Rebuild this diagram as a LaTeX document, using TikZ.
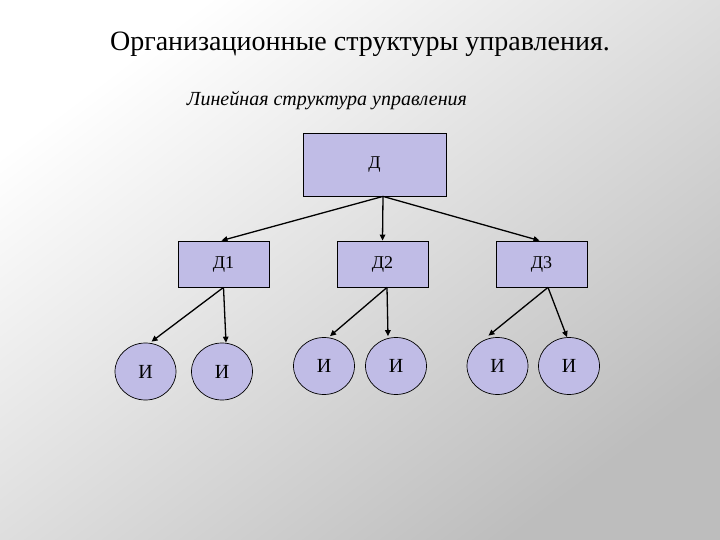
\documentclass[tikz,border=0pt]{standalone}
\usepackage{fontspec}
\setmainfont{Liberation Serif}
\usetikzlibrary{shapes.geometric,arrows.meta}
\definecolor{boxfill}{RGB}{192,188,230}
\tikzset{
  mgr/.style={draw=black, line width=0.8pt, fill=boxfill, inner sep=0pt, font=\fontsize{18}{20}\selectfont},
  exe/.style={ellipse, draw=black, line width=0.7pt, fill=boxfill, minimum width=61pt, minimum height=57pt, inner sep=0pt, font=\fontsize{20}{22}\selectfont},
  conn/.style={line width=1.3pt, -{Triangle[length=6pt,width=5.5pt]}}
}
\begin{document}
\begin{tikzpicture}[x=1pt,y=-1pt]
\useasboundingbox (0,0) rectangle (720,540);
\begin{scope}[y=1pt]
\shade[top color=white, bottom color=black!26, shading angle=37] (0,-540) rectangle (720,0);
\end{scope}
\node[font=\fontsize{28}{32}\selectfont] (title) at (360,44) {Организационные структуры управления.};
\node[font=\itshape\fontsize{20}{22}\selectfont] (sub) at (327,101) {Линейная структура управления};
\node[mgr, minimum width=143pt, minimum height=63pt] (D) at (374.5,164.5) {Д};
\node[mgr, minimum width=91pt, minimum height=46pt] (D1) at (223.5,264) {Д1};
\node[mgr, minimum width=91pt, minimum height=46pt] (D2) at (382.5,264) {Д2};
\node[mgr, minimum width=91pt, minimum height=46pt] (D3) at (541.5,264) {Д3};
\node[exe] (I1) at (145.5,371.5) {И};
\node[exe] (I2) at (222,371.5) {И};
\node[exe] (I3) at (324,366) {И};
\node[exe] (I4) at (396,366) {И};
\node[exe] (I5) at (497.5,366) {И};
\node[exe] (I6) at (569,366) {И};
\draw[conn] ([xshift=8.5pt]D.south) -- ([xshift=-2pt]D1.north);
\draw[conn] ([xshift=8.5pt]D.south) -- (D2.north);
\draw[conn] ([xshift=8.5pt]D.south) -- ([xshift=-2pt]D3.north);
\draw[conn] (D1.south) -- ([xshift=6pt,yshift=1pt]I1.north);
\draw[conn] (D1.south) -- ([xshift=4pt]I2.north);
\draw[conn] ([xshift=4.5pt]D2.south) -- ([xshift=6pt,yshift=1pt]I3.north);
\draw[conn] ([xshift=4.5pt]D2.south) -- ([xshift=-8pt,yshift=1pt]I4.north);
\draw[conn] ([xshift=6.5pt]D3.south) -- ([xshift=-9pt,yshift=1.5pt]I5.north);
\draw[conn] ([xshift=6.5pt]D3.south) -- ([xshift=-2pt]I6.north);
\end{tikzpicture}
\end{document}
